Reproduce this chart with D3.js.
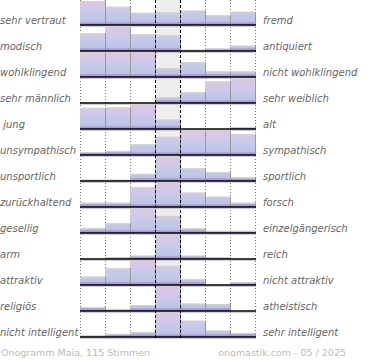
<!DOCTYPE html>
<html><head><meta charset="utf-8">
<script src="https://cdn.jsdelivr.net/npm/d3@7"></script>
<style>
html,body{margin:0;padding:0;background:#fff;}
svg{display:block;}
text{font-family:"DejaVu Sans",sans-serif;}
</style></head>
<body>
<script>
const leftLabels = ["sehr vertraut","modisch","wohlklingend","sehr männlich"," jung","unsympathisch","unsportlich","zurückhaltend","gesellig","arm","attraktiv","religiös","nicht intelligent"];
const rightLabels = ["fremd","antiquiert","nicht wohlklingend","sehr weiblich","alt","sympathisch","sportlich","forsch","einzelgängerisch","reich","nicht attraktiv","atheistisch","sehr intelligent"];
const bins = [1,2,3,4,5,6,7];
// relative bar heights per row (row maximum = 100)
const values = [
  [100, 76, 51, 53, 60, 40, 55],
  [ 74,100, 70, 65,  5, 10, 22],
  [100,100,100, 36, 62, 23, 23],
  [  0,  0,  0, 24, 45, 90,100],
  [ 88, 90,100, 39,  0,  0,  8],
  [ 12, 17, 45, 76,100,100, 87],
  [  5,  5, 30,100, 53, 37, 15],
  [ 18, 18, 83,100, 60, 43, 18],
  [ 21, 40,100, 71, 20,  9,  9],
  [  0,  7, 14,100, 14,  7,  0],
  [ 35, 70,100, 80, 24,  0, 11],
  [ 16,  7, 25,100, 31, 29,  0],
  [  6, 13, 21,100, 68, 27, 17]
];
const footerLeft = "Onogramm Maia, 115 Stimmen";
const footerRight = "onomastik.com - 05 / 2025";

const W = 370, H = 360;
const svg = d3.select("body").append("svg").attr("width", W).attr("height", H);

const x = d3.scaleBand().domain(bins).range([80, 255]).padding(0);
const rows = d3.scaleBand().domain(d3.range(leftLabels.length)).range([-1, 337]).padding(0);
const rh = rows.bandwidth();
const h = d3.scaleLinear().domain([0, 100]).range([0, rh - 2]);

const defs = svg.append("defs");
const grad = defs.append("linearGradient").attr("id", "barGrad")
  .attr("gradientUnits", "userSpaceOnUse").attr("x1", 0).attr("x2", 0).attr("y1", 2).attr("y2", rh);
[["0%","#dec6e6"],["35%","#cfc9e9"],["60%","#c4c9ea"],["86%","#bec2e6"],["90%","#ada5d8"],["100%","#9c8cc6"]]
  .forEach(([o,c]) => grad.append("stop").attr("offset", o).attr("stop-color", c));

const yTop = 0, yBottom = rows(leftLabels.length - 1) + rh + 1;

// middle column background
svg.append("rect").attr("x", x(4)).attr("y", yTop).attr("width", x.bandwidth())
  .attr("height", yBottom - yTop).attr("fill", "#ededed");

// dotted grid lines
const gridX = [x(1), x(2), x(3), x(6), x(7), x(7) + x.bandwidth()];
svg.selectAll("line.dot").data(gridX).join("line").attr("class", "dot")
  .attr("x1", d => d + 0.5).attr("x2", d => d + 0.5).attr("y1", yTop).attr("y2", yBottom)
  .attr("stroke", "#777").attr("stroke-width", 1).attr("stroke-dasharray", "1,2");

const g = svg.selectAll("g.row").data(values).join("g").attr("class", "row")
  .attr("transform", (d, i) => `translate(0,${rows(i)})`);

// bars
g.each(function(vals) {
  const gg = d3.select(this);
  const data = vals.map((v, j) => ({bin: bins[j], v})).filter(d => d.v > 0);
  gg.selectAll("rect.bar").data(data).join("rect").attr("class", "bar")
    .attr("x", d => x(d.bin)).attr("width", x.bandwidth())
    .attr("y", d => rh - h(d.v)).attr("height", d => h(d.v))
    .attr("fill", "url(#barGrad)");
  gg.selectAll("line.topEdge").data(data).join("line").attr("class", "topEdge")
    .attr("x1", d => x(d.bin)).attr("x2", d => x(d.bin) + x.bandwidth())
    .attr("y1", d => rh - h(d.v) + 0.5).attr("y2", d => rh - h(d.v) + 0.5)
    .attr("stroke", "#d2d2d8").attr("stroke-width", 1);
  gg.selectAll("line.rightEdge").data(data).join("line").attr("class", "rightEdge")
    .attr("x1", d => x(d.bin) + x.bandwidth() + 0.5).attr("x2", d => x(d.bin) + x.bandwidth() + 0.5)
    .attr("y1", d => rh - h(d.v)).attr("y2", rh)
    .attr("stroke", "#999").attr("stroke-width", 1);
  gg.append("line").attr("x1", 80).attr("x2", 256).attr("y1", rh + 1.2).attr("y2", rh + 1.2)
    .attr("stroke", "#bbb").attr("stroke-width", 1);
  gg.append("line").attr("x1", 80).attr("x2", 256).attr("y1", rh).attr("y2", rh)
    .attr("stroke", "#000").attr("stroke-width", 1.6);
});

// labels
g.append("text").attr("x", 0).attr("y", rh - 1.5)
  .attr("font-size", 10).attr("font-style", "italic").attr("fill", "#666")
  .style("white-space", "pre").text((d, i) => leftLabels[i]);
g.append("text").attr("x", 263).attr("y", rh - 1.5)
  .attr("font-size", 10).attr("font-style", "italic").attr("fill", "#666")
  .text((d, i) => rightLabels[i]);

// dashed central lines
svg.selectAll("line.dash").data([x(4), x(5)]).join("line").attr("class", "dash")
  .attr("x1", d => d + 0.5).attr("x2", d => d + 0.5).attr("y1", yTop).attr("y2", yBottom)
  .attr("stroke", "#000").attr("stroke-width", 1).attr("stroke-dasharray", "3,2");

// footer
svg.append("text").attr("x", 1).attr("y", 356).attr("font-size", 9.5).attr("fill", "#bbb").text(footerLeft);
svg.append("text").attr("x", 346).attr("y", 356).attr("text-anchor", "end").attr("font-size", 9.5).attr("fill", "#bbb").text(footerRight);
</script>
</body></html>
